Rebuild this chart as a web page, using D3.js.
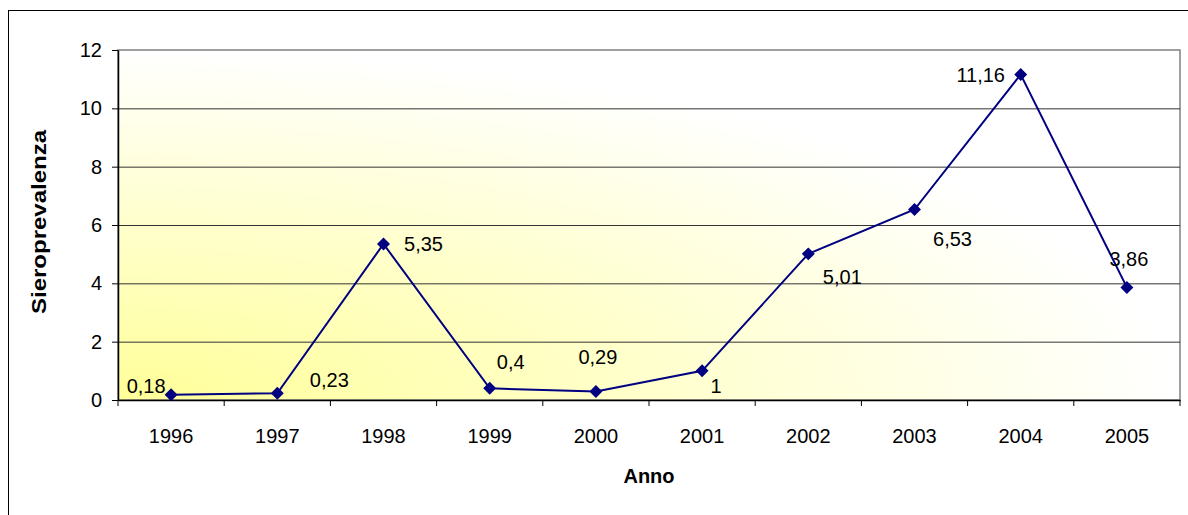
<!DOCTYPE html>
<html>
<head>
<meta charset="utf-8">
<script src="https://cdn.jsdelivr.net/npm/d3@7"></script>
<style>
  body { margin: 0; background: #fff; }
  svg { display: block; font-family: "Liberation Sans", Arial, sans-serif; }
</style>
</head>
<body>
<svg width="1188" height="515"></svg>
<script>
const years = ["1996", "1997", "1998", "1999", "2000", "2001", "2002", "2003", "2004", "2005"];
const values = [0.18, 0.23, 5.35, 0.4, 0.29, 1, 5.01, 6.53, 11.16, 3.86];
const labels = ["0,18", "0,23", "5,35", "0,4", "0,29", "1", "5,01", "6,53", "11,16", "3,86"];
const yTicks = [0, 2, 4, 6, 8, 10, 12];

// where each data label sits relative to its point (Excel placed them by hand)
const labelOffsets = [[-25, -9], [52, -13], [40, 0], [21, -26], [2, -35], [14, 15], [34, 23], [38, 29], [-40, 0], [2, -28]];

const svg = d3.select("svg");
const m = {left: 118, right: 1180, top: 50, bottom: 400};
const fontSize = 20;

const x = d3.scaleBand().domain(years).range([m.left, m.right]);
const y = d3.scaleLinear().domain([0, 12]).range([m.bottom, m.top]);

// outer chart border
svg.append("rect")
  .attr("x", 8.5).attr("y", 10.5)
  .attr("width", 1200).attr("height", 530)
  .attr("fill", "#fff")
  .attr("stroke", "#000");

// plot area background gradient
const defs = svg.append("defs");
const grad = defs.append("radialGradient")
  .attr("id", "bg")
  .attr("cx", 0).attr("cy", 1).attr("r", 1)
  .attr("fx", 0).attr("fy", 1);
grad.append("stop").attr("offset", "0%").attr("stop-color", "#ffff99");
grad.append("stop").attr("offset", "100%").attr("stop-color", "#ffffff");

svg.append("rect")
  .attr("x", m.left).attr("y", m.top)
  .attr("width", m.right - m.left).attr("height", m.bottom - m.top)
  .attr("fill", "url(#bg)")
  .attr("stroke", "#808080")
  .attr("stroke-width", 1.5);

// gridlines
svg.append("g")
  .selectAll("line")
  .data(yTicks.filter(d => d > 0 && d < 12))
  .enter()
  .append("line")
  .attr("x1", m.left).attr("x2", m.right)
  .attr("y1", d => y(d) + 0.5).attr("y2", d => y(d) + 0.5)
  .attr("stroke", "#333")
  .attr("stroke-width", 1);

// y axis
const yAxis = svg.append("g")
  .attr("transform", `translate(${m.left},0)`)
  .call(d3.axisLeft(y).tickValues(yTicks).tickSize(6).tickPadding(10).tickSizeOuter(0));
yAxis.select(".domain").attr("stroke", "#000").attr("stroke-width", 1.5);
yAxis.selectAll(".tick line").attr("stroke", "#000");
yAxis.selectAll("text")
  .attr("font-size", fontSize)
  .attr("font-family", "Liberation Sans, Arial, sans-serif")
  .attr("fill", "#000");

// x axis, ticks on category boundaries
const xAxis = svg.append("g")
  .attr("transform", `translate(0,${m.bottom})`)
  .call(d3.axisBottom(x).tickSize(0).tickPadding(29).tickSizeOuter(0));
xAxis.select(".domain").attr("stroke", "#000").attr("stroke-width", 1.5);
xAxis.selectAll("text")
  .attr("font-size", fontSize)
  .attr("font-family", "Liberation Sans, Arial, sans-serif")
  .attr("fill", "#000");

svg.append("g")
  .selectAll("line")
  .data(years.map((d, i) => i).concat([years.length]))
  .enter()
  .append("line")
  .attr("x1", i => m.left + i * x.bandwidth())
  .attr("x2", i => m.left + i * x.bandwidth())
  .attr("y1", m.bottom).attr("y2", m.bottom + 6)
  .attr("stroke", "#000");

// axis titles
svg.append("text")
  .attr("x", 649).attr("y", 483)
  .attr("text-anchor", "middle")
  .attr("font-size", 20).attr("font-weight", "bold")
  .text("Anno");

svg.append("text")
  .attr("transform", "translate(46,222) rotate(-90)")
  .attr("text-anchor", "middle")
  .attr("font-size", 20).attr("font-weight", "bold")
  .attr("textLength", 184).attr("lengthAdjust", "spacingAndGlyphs")
  .text("Sieroprevalenza");

// line + markers
const cx = (d, i) => x(years[i]) + x.bandwidth() / 2;
const line = d3.line()
  .x((d, i) => cx(d, i))
  .y(d => y(d));

svg.append("path")
  .datum(values)
  .attr("d", line)
  .attr("fill", "none")
  .attr("stroke", "#000080")
  .attr("stroke-width", 2);

svg.append("g")
  .selectAll("path")
  .data(values)
  .enter()
  .append("path")
  .attr("d", d3.symbol().type(d3.symbolSquare).size(84))
  .attr("transform", (d, i) => `translate(${cx(d, i)},${y(d)}) rotate(45)`)
  .attr("fill", "#000080");

// data labels
svg.append("g")
  .selectAll("text")
  .data(values)
  .enter()
  .append("text")
  .attr("x", (d, i) => cx(d, i) + labelOffsets[i][0])
  .attr("y", (d, i) => y(d) + labelOffsets[i][1])
  .attr("dy", "0.35em")
  .attr("text-anchor", "middle")
  .attr("font-size", fontSize)
  .attr("fill", "#000")
  .text((d, i) => labels[i]);
</script>
</body>
</html>
